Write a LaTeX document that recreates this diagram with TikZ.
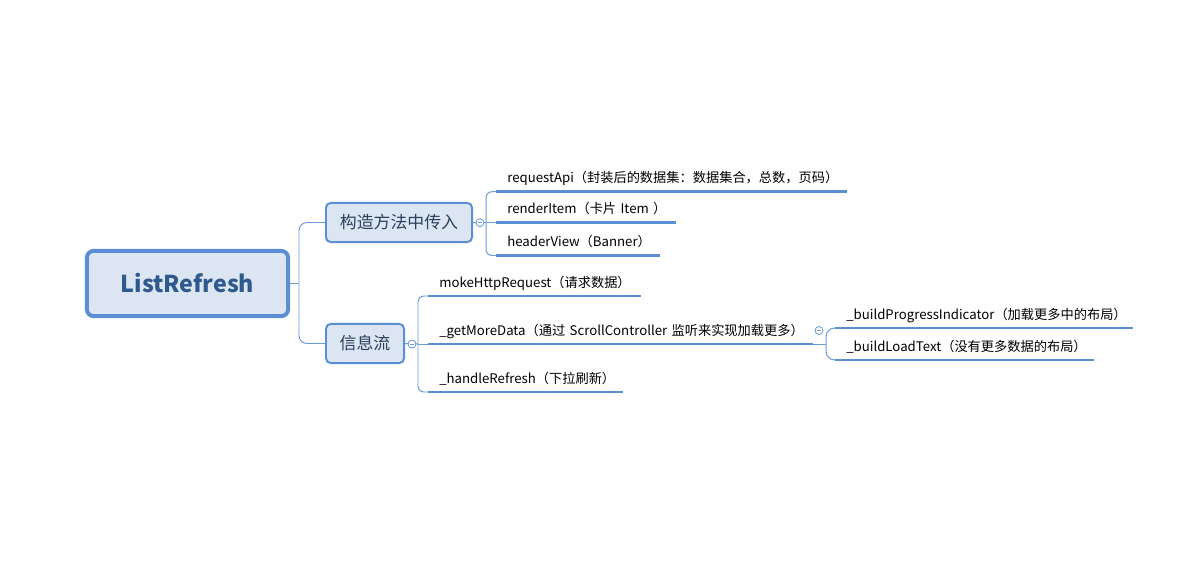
\documentclass[tikz,border=0pt]{standalone}
\usepackage{fontspec}
\setmainfont{Noto Sans CJK SC}
\definecolor{mapblue}{HTML}{5B8ED4}
\definecolor{linkblue}{HTML}{6C9AD6}
\definecolor{topicfill}{HTML}{DCE6F2}
\definecolor{roottext}{HTML}{2F5A8E}
\definecolor{topictext}{HTML}{2B3F5C}

\begin{document}
\begin{tikzpicture}[
  x=0.025cm,
  y=-0.025cm,
  root/.style={
    rectangle,
    rounded corners=0.17cm,
    draw=mapblue,
    fill=topicfill,
    line width=2.8pt,
    minimum width=5.03cm,
    minimum height=1.63cm,
    inner sep=0pt,
    text=roottext,
    font=\fontsize{16.5pt}{20pt}\selectfont\bfseries
  },
  topic/.style={
    rectangle,
    rounded corners=0.12cm,
    draw=mapblue,
    fill=topicfill,
    line width=1.4pt,
    minimum height=0.98cm,
    inner sep=0pt,
    text=topictext,
    font=\fontsize{12pt}{14pt}\selectfont
  },
  leaf/.style={
    anchor=south west,
    inner xsep=0pt,
    inner ysep=0.215cm,
    text depth=0pt,
    text width=#1,
    align=left,
    font=\fontsize{9.4pt}{11pt}\selectfont,
    execute at begin node={\hspace*{0.275cm}}
  },
  fold/.style={
    circle,
    draw=linkblue,
    fill=white,
    line width=0.6pt,
    minimum size=0.2cm,
    inner sep=0pt,
    path picture={\draw[linkblue, line width=0.6pt]
      ([xshift=0.05cm]path picture bounding box.west) --
      ([xshift=-0.05cm]path picture bounding box.east);}
  },
  uline/.style={
    draw=mapblue,
    line width=2.1pt
  },
  link/.style={
    draw=linkblue,
    line width=0.7pt
  }
]

\path[use as bounding box] (0,0) rectangle (1200,572);

\node[root] (root) at (187.5,283.5) {ListRefresh};
\node[topic, minimum width=3.65cm] (ctor) at (399,222.5) {构造方法中传入};
\node[topic, minimum width=1.95cm] (flow) at (365,343.5) {信息流};

\coordinate (jroot) at (299,283.5);
\draw[link] (root.east) -- (jroot);
\draw[link, rounded corners=0.2cm] (ctor.west) -| (jroot) |- (flow.west);

\node[leaf=8.75cm]  (rq) at (496,191.7) {requestApi（封装后的数据集：数据集合，总数，页码）};
\node[leaf=4.475cm] (ri) at (496,222.7) {renderItem（卡片 Item ）};
\node[leaf=4.075cm] (hv) at (496,255.5) {headerView（Banner）};

\node[leaf=5.3cm]  (mk) at (428,296) {mokeHttpRequest（请求数据）};
\node[leaf=9.6cm]  (gm) at (428,344) {\_getMoreData（通过 ScrollController 监听来实现加载更多）};
\node[leaf=4.85cm] (hr) at (428,392) {\_handleRefresh（下拉刷新）};

\node[leaf=7.425cm] (bp) at (835,328) {\_buildProgressIndicator（加载更多中的布局）};
\node[leaf=6.45cm]  (bl) at (835,360) {\_buildLoadText（没有更多数据的布局）};

\coordinate (jctor) at (486,222.7);
\coordinate (jflow) at (418,344);
\coordinate (jgm) at (826,344);

\draw[link] (ctor.east) -- (jctor);
\draw[link, rounded corners=0.15cm] (rq.south west) -| (jctor) |- (hv.south west);
\draw[link] (jctor) -- (ri.south west);

\draw[link] (flow.east) -- (jflow);
\draw[link, rounded corners=0.15cm] (mk.south west) -| (jflow) |- (hr.south west);
\draw[link] (jflow) -- (gm.south west);

\draw[link] (gm.south east) -- (jgm);
\draw[link, rounded corners=0.22cm] (bp.south west) -| (jgm) |- (bl.south west);

\draw[uline] (rq.south west) -- (rq.south east);
\draw[uline] (ri.south west) -- (ri.south east);
\draw[uline] (hv.south west) -- (hv.south east);
\draw[uline] (mk.south west) -- (mk.south east);
\draw[uline] (gm.south west) -- (gm.south east);
\draw[uline] (hr.south west) -- (hr.south east);
\draw[uline] (bp.south west) -- (bp.south east);
\draw[uline] (bl.south west) -- (bl.south east);

\node[fold] (fctor) at (480,222.7) {};
\node[fold] (fflow) at (412,344) {};
\node[fold] (fgm) at (819,330.5) {};

\end{tikzpicture}
\end{document}
